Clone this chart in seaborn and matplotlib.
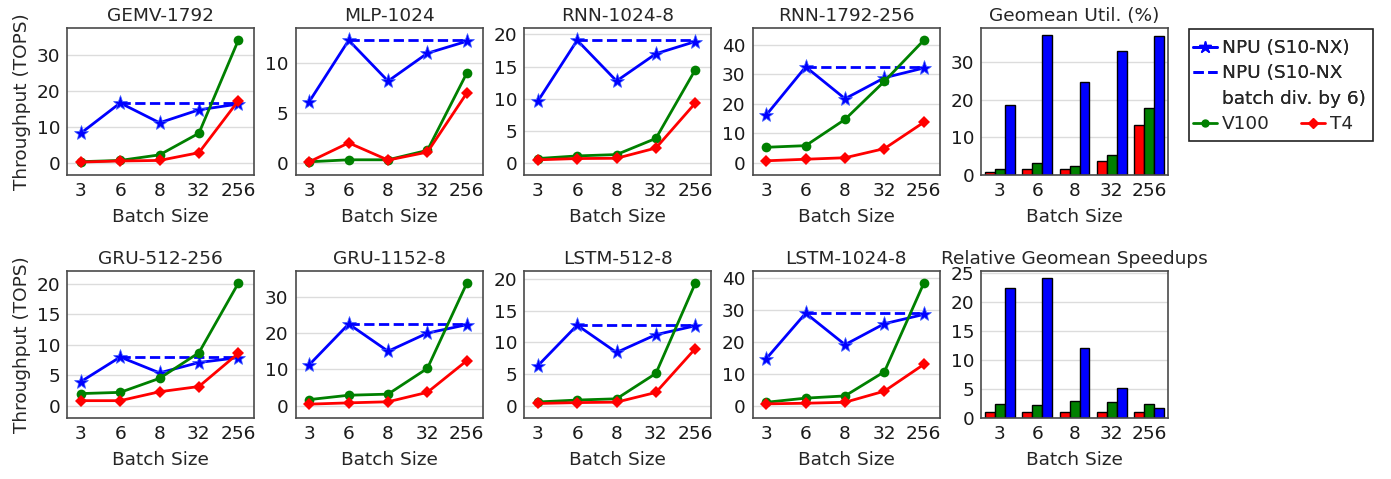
import numpy as np
import matplotlib
matplotlib.use('Agg')
import matplotlib.pyplot as plt
import matplotlib.patches as mpatches
from matplotlib.lines import Line2D
import pandas as pd
import seaborn as sns

# Batch sizes on the x axis
batch = ['3', '6', '8', '32', '256']

# Throughput (TOPS) per workload
titles = ['GEMV-1792', 'MLP-1024', 'RNN-1024-8', 'RNN-1792-256',
          'GRU-512-256', 'GRU-1152-8', 'LSTM-512-8', 'LSTM-1024-8']
npu = [
    [8.2, 16.6, 11.1, 14.7, 16.3],
    [6.15, 12.3, 8.2, 11.0, 12.2],
    [9.6, 19.1, 12.75, 17.0, 18.9],
    [16.2, 32.5, 21.7, 28.8, 32.1],
    [3.95, 8.0, 5.4, 7.1, 7.9],
    [11.3, 22.5, 15.0, 20.0, 22.3],
    [6.3, 12.7, 8.4, 11.2, 12.6],
    [14.8, 29.1, 19.2, 25.8, 28.7],
]
# NPU with batch divided by 6 (flat from batch 6 on)
npu_div6 = [16.6, 12.3, 19.1, 32.5, 8.0, 22.5, 12.7, 29.1]
v100 = [
    [0.3, 0.65, 2.2, 8.2, 34.0],
    [0.1, 0.3, 0.3, 1.25, 9.0],
    [0.66, 1.07, 1.28, 3.8, 14.5],
    [5.25, 5.8, 14.7, 27.6, 41.5],
    [2.0, 2.2, 4.5, 8.7, 20.1],
    [1.7, 2.9, 3.2, 10.3, 33.7],
    [0.6, 0.9, 1.1, 5.1, 19.3],
    [1.1, 2.4, 3.1, 10.7, 38.5],
]
t4 = [
    [0.2, 0.5, 0.65, 2.8, 17.2],
    [0.1, 2.0, 0.27, 1.07, 7.0],
    [0.46, 0.66, 0.7, 2.3, 9.3],
    [0.67, 1.2, 1.7, 4.8, 13.7],
    [0.84, 0.84, 2.3, 3.16, 8.6],
    [0.45, 0.8, 1.1, 3.7, 12.4],
    [0.36, 0.5, 0.57, 2.1, 9.0],
    [0.6, 0.8, 1.1, 4.6, 13.0],
]
ystep = [10, 5, 5, 10, 5, 10, 5, 10]

# Geomean utilisation (%) and relative speedups
util_t4 = [0.9, 1.5, 1.5, 3.7, 13.3]
util_v100 = [1.7, 3.1, 2.3, 5.4, 17.9]
util_npu = [18.6, 37.2, 24.8, 33.0, 36.9]
spd_t4 = [1.0, 1.0, 1.0, 1.0, 1.0]
spd_v100 = [2.5, 2.2, 3.0, 2.8, 2.5]
spd_npu = [22.3, 24.1, 12.0, 5.1, 1.7]

BLUE, GREEN, RED = '#0000ff', '#008000', '#ff0000'
FS = 13.3

sns.set_theme(style='whitegrid')
plt.rcParams['font.family'] = ['DejaVu Sans']

fig, axes = plt.subplots(2, 5, figsize=(13.91, 4.79), dpi=100)
fig.subplots_adjust(left=0.0482, right=0.8397, top=0.9415, bottom=0.1273,
                    wspace=0.222, hspace=0.653)


def style_ax(ax):
    for s in ax.spines.values():
        s.set_color('#4a4a4a')
        s.set_linewidth(1.2)
    ax.grid(axis='y', color='#dcdcdc', linewidth=1)
    ax.grid(axis='x', visible=False)
    ax.tick_params(length=0, labelsize=FS, pad=5, colors='#1a1a1a')
    ax.set_xlabel('Batch Size', fontsize=FS, labelpad=6)


pos = np.arange(len(batch))
line_axes = [axes[0, 0], axes[0, 1], axes[0, 2], axes[0, 3],
             axes[1, 0], axes[1, 1], axes[1, 2], axes[1, 3]]

for i, ax in enumerate(line_axes):
    sns.lineplot(x=pos, y=npu[i], ax=ax, color=BLUE, marker='*',
                 markersize=11, markeredgewidth=0.5, markeredgecolor='#4060ff',
                 linewidth=2, sort=False)
    sns.lineplot(x=pos[1:], y=[npu_div6[i]] * 4, ax=ax, color=BLUE,
                 linestyle='--', linewidth=2, sort=False)
    sns.lineplot(x=pos, y=v100[i], ax=ax, color=GREEN, marker='o',
                 markersize=7, markeredgewidth=0, linewidth=2, sort=False)
    sns.lineplot(x=pos, y=t4[i], ax=ax, color=RED, marker='D',
                 markersize=6, markeredgewidth=0, linewidth=2, sort=False)
    m = max(max(npu[i]), max(v100[i]), max(t4[i]))
    ax.set_ylim(-0.1 * m, 1.1 * m)
    ax.set_yticks(np.arange(0, 1.1 * m, ystep[i]))
    ax.set_xlim(-0.35, 4.4)
    ax.set_xticks(pos)
    ax.set_xticklabels(batch)
    ax.set_title(titles[i], fontsize=FS, pad=5)
    style_ax(ax)
    ax.set_ylabel('')

axes[0, 0].set_ylabel('Throughput (TOPS)', fontsize=FS)
axes[1, 0].set_ylabel('Throughput (TOPS)', fontsize=FS)

devices = ['T4', 'V100', 'NPU']
bar_sets = [
    (axes[0, 4], [util_t4, util_v100, util_npu], 'Geomean Util. (%)', 10),
    (axes[1, 4], [spd_t4, spd_v100, spd_npu], 'Relative Geomean Speedups', 5),
]
for ax, series, title, step in bar_sets:
    df = pd.DataFrame({
        'batch': batch * 3,
        'device': np.repeat(devices, len(batch)),
        'value': sum(series, []),
    })
    sns.barplot(data=df, x='batch', y='value', hue='device', order=batch,
                hue_order=devices, palette=[RED, GREEN, BLUE], ax=ax,
                edgecolor='black', linewidth=1, saturation=1, legend=False)
    m = max(max(s) for s in series)
    ax.set_ylim(0, 1.05 * m)
    ax.set_yticks(np.arange(0, 1.05 * m, step))
    ax.set_xlim(-0.5, 4.5)
    ax.set_title(title, fontsize=FS, pad=5)
    style_ax(ax)
    ax.set_ylabel('')

# Legend
h_npu = Line2D([], [], color=BLUE, marker='*', markersize=9, linewidth=2)
h_div = Line2D([], [], color=BLUE, linestyle='--', linewidth=2)
h_blank = Line2D([], [], color='none')
h_v100 = Line2D([], [], color=GREEN, marker='o', markersize=5, linewidth=2)
h_t4 = Line2D([], [], color=RED, marker='D', markersize=5, linewidth=2)

W, H = 1391, 479
leg1 = fig.legend(handles=[h_npu, h_div, h_blank],
                  labels=['NPU (S10-NX)', 'NPU (S10-NX', 'batch div. by 6)'],
                  loc='upper left', bbox_to_anchor=(1193 / W, 1 - 39 / H),
                  frameon=False, fontsize=FS, handlelength=1.3,
                  handletextpad=0.25, borderpad=0, borderaxespad=0,
                  labelspacing=0.4)
fig.add_artist(leg1)
leg2 = fig.legend(handles=[h_v100, h_t4], labels=['V100', 'T4'], ncol=2,
                  loc='upper left', bbox_to_anchor=(1193 / W, 1 - 115 / H),
                  frameon=False, fontsize=FS, handlelength=1.3,
                  handletextpad=0.25, borderpad=0, borderaxespad=0,
                  columnspacing=1.7)
fig.add_artist(mpatches.Rectangle((1189 / W, 1 - 141 / H), (1373 - 1189) / W,
                                  (141 - 29) / H, transform=fig.transFigure,
                                  fill=False, edgecolor='#222222',
                                  linewidth=1.2))

fig.savefig('out.png', dpi=100)
